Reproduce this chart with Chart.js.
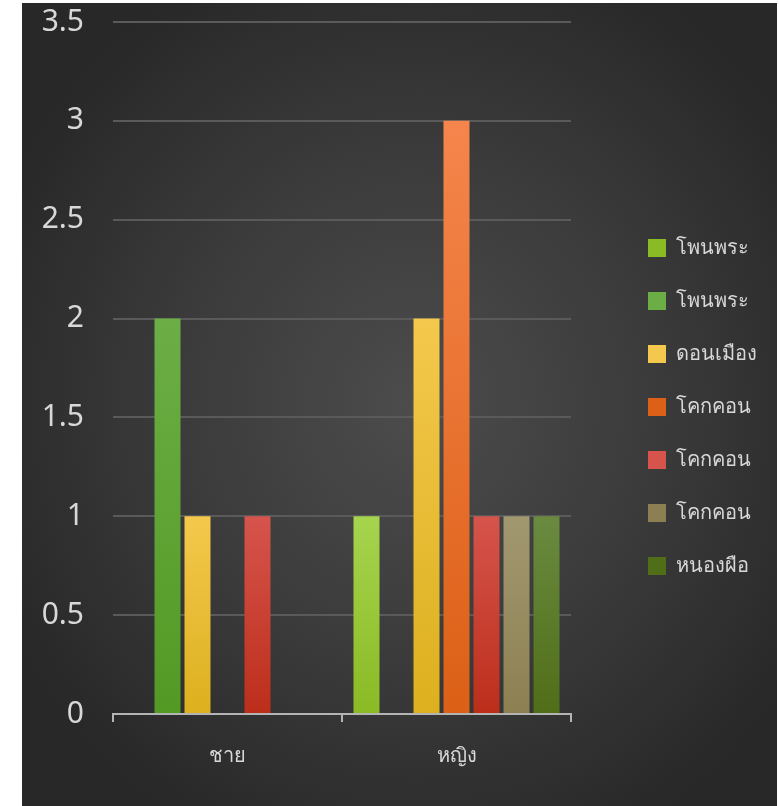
<!DOCTYPE html>
<html>
<head>
<meta charset="utf-8">
<script src="https://cdn.jsdelivr.net/npm/chart.js@4"></script>
<style>
    html, body { margin: 0; padding: 0; background: #ffffff; }
    #wrap {
        position: absolute;
        left: 22px;
        top: 3px;
        width: 755px;
        height: 803px;
        background: radial-gradient(ellipse 60% 60% at 52% 50%, #4c4c4c 0%, #3a3a3a 55%, #282828 100%);
    }
</style>
</head>
<body>
<div id="wrap"><canvas id="chart"></canvas></div>
<script>
// categories and series
const categories = ['ชาย', 'หญิง'];
const seriesNames = ['โพนพระ', 'โพนพระ', 'ดอนเมือง', 'โคกคอน', 'โคกคอน', 'โคกคอน', 'หนองผือ'];
const seriesValues = [
    [0, 1],
    [2, 0],
    [1, 2],
    [0, 3],
    [1, 1],
    [0, 1],
    [0, 1]
];
// top / bottom colour of each bar gradient
const seriesColors = [
    ['#a6d44e', '#8aba24'],
    ['#6cae46', '#529a24'],
    ['#f4c84c', '#dcb01e'],
    ['#f5854c', '#dc6016'],
    ['#d6544c', '#bc2e1a'],
    ['#a29870', '#8c8052'],
    ['#6a8a40', '#506e18']
];
const yTicks = { max: 3.5, step: 0.5 };

const textColor = '#d8d8d8';

function barFill(colors) {
    return (ctx) => {
        const chart = ctx.chart;
        if (!chart.chartArea || ctx.type !== 'data') return colors[1];
        const y = chart.scales.y;
        const top = y.getPixelForValue(ctx.raw);
        const bottom = y.getPixelForValue(0);
        if (bottom - top < 2) return colors[1];
        const g = chart.ctx.createLinearGradient(0, top, 0, bottom);
        g.addColorStop(0, colors[0]);
        g.addColorStop(1, colors[1]);
        return g;
    };
}

const datasets = seriesNames.map((name, i) => ({
    label: name,
    data: seriesValues[i],
    backgroundColor: barFill(seriesColors[i]),
    borderWidth: 0,
    categoryPercentage: 0.917,
    barPercentage: 0.867
}));

new Chart(document.getElementById('chart'), {
    type: 'bar',
    data: { labels: categories, datasets: datasets },
    options: {
        responsive: true,
        maintainAspectRatio: false,
        animation: false,
        layout: { padding: { top: 5, right: 10 } },
        plugins: {
            tooltip: { enabled: false },
            legend: {
                position: 'right',
                maxWidth: 162,
                labels: {
                    color: textColor,
                    boxWidth: 18,
                    boxHeight: 18,
                    padding: 33,
                    font: { family: 'Noto Sans, DejaVu Sans, sans-serif', size: 20 }
                }
            }
        },
        scales: {
            x: {
                grid: {
                    offset: true,
                    drawOnChartArea: false,
                    drawTicks: true,
                    tickLength: 8,
                    color: '#b4b4b4',
                    lineWidth: 2
                },
                border: { display: true, color: '#b4b4b4', width: 2 },
                ticks: {
                    color: textColor,
                    padding: 22,
                    font: { family: 'Noto Sans, DejaVu Sans, sans-serif', size: 20 }
                },
                afterFit: (s) => { s.height = 92; }
            },
            y: {
                min: 0,
                max: yTicks.max,
                ticks: {
                    stepSize: yTicks.step,
                    color: textColor,
                    padding: 29,
                    font: { family: 'Noto Sans, DejaVu Sans, sans-serif', size: 30 },
                    callback: (v) => String(v)
                },
                grid: { color: '#5a5a5a', lineWidth: 2, drawTicks: false },
                border: { display: false },
                afterFit: (s) => {
                    s.width = 91;
                    s.paddingTop = 19;
                    s.paddingBottom = 0;
                }
            },
            // empty spacer between plot and legend
            gap: {
                type: 'linear',
                position: 'right',
                display: true,
                grid: { display: false },
                border: { display: false },
                ticks: { display: false },
                afterFit: (s) => { s.width = 44; }
            }
        }
    }
});
</script>
</body>
</html>
